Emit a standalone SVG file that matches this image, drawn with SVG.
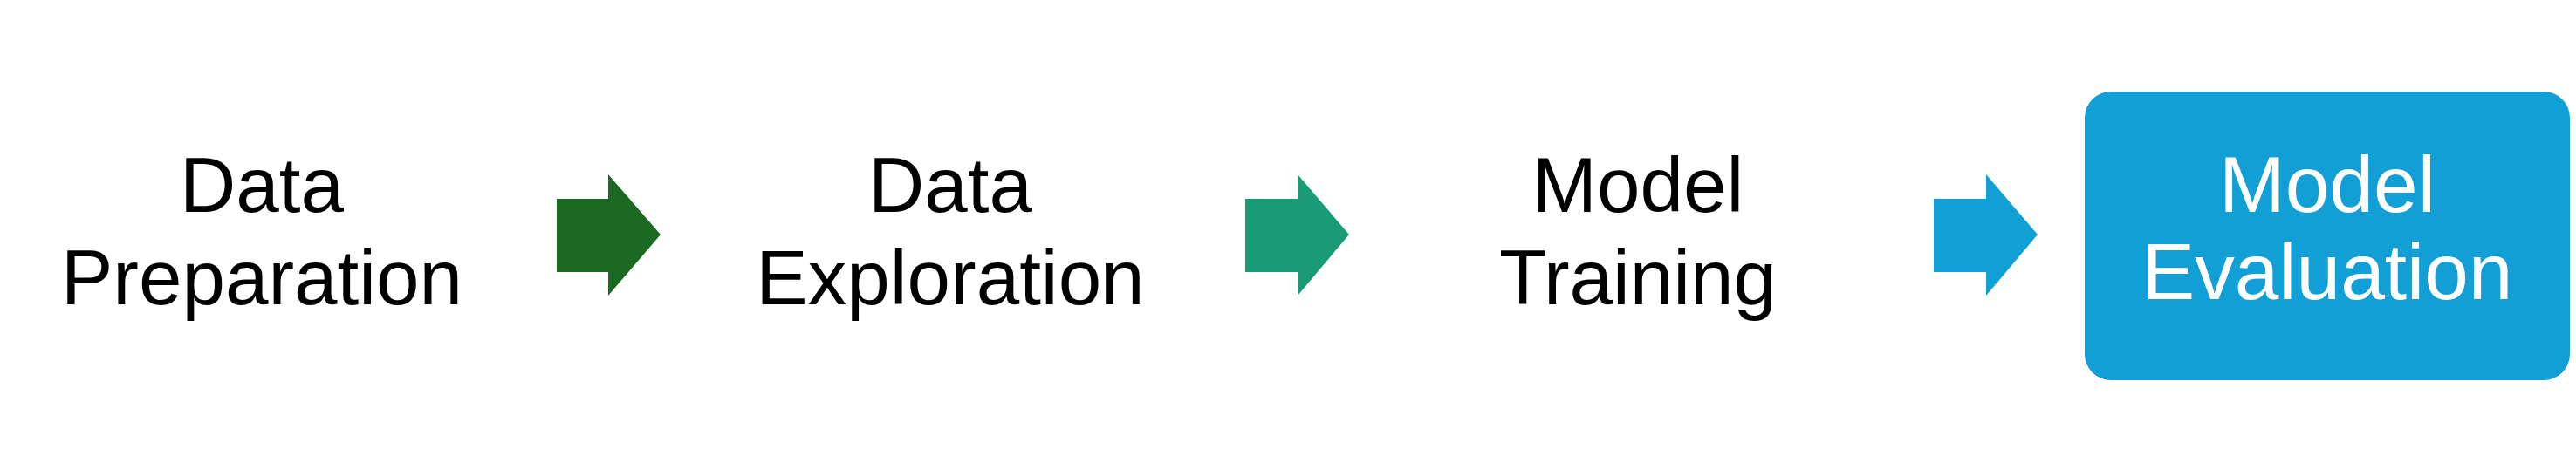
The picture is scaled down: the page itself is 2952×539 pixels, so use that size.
<svg xmlns="http://www.w3.org/2000/svg" width="2952" height="539" viewBox="0 0 2952 539">
<style>
.lbl{font-family:"Liberation Sans",Arial,sans-serif;font-size:89px;fill:#000;text-anchor:middle}
.wht{fill:#fff;font-size:91px}
</style>
<rect width="2952" height="539" fill="#fff"/>
<g id="connectors">
<polygon points="638,228 697,228 697,200 757,269 697,339 697,312 638,312" fill="#1B6A24"/>
<polygon points="1427,228 1487,228 1487,200 1546,269 1487,339 1487,312 1427,312" fill="#199C76"/>
<polygon points="2216,228 2276,228 2276,200 2335,269 2276,339 2276,312 2216,312" fill="#129FD6"/>
</g>
<g id="node-prep">
<text class="lbl" x="300" y="243">Data</text>
<text class="lbl" x="300" y="349">Preparation</text>
</g>
<g id="node-explore">
<text class="lbl" x="1089" y="243">Data</text>
<text class="lbl" x="1089" y="349">Exploration</text>
</g>
<g id="node-train">
<text class="lbl" x="1877" y="243">Model</text>
<text class="lbl" x="1877" y="349">Training</text>
</g>
<g id="node-eval">
<rect x="2389" y="105" width="556" height="331" rx="30" ry="30" fill="#129FD6"/>
<text class="lbl wht" x="2667" y="243">Model</text>
<text class="lbl wht" x="2667" y="343">Evaluation</text>
</g>
</svg>
